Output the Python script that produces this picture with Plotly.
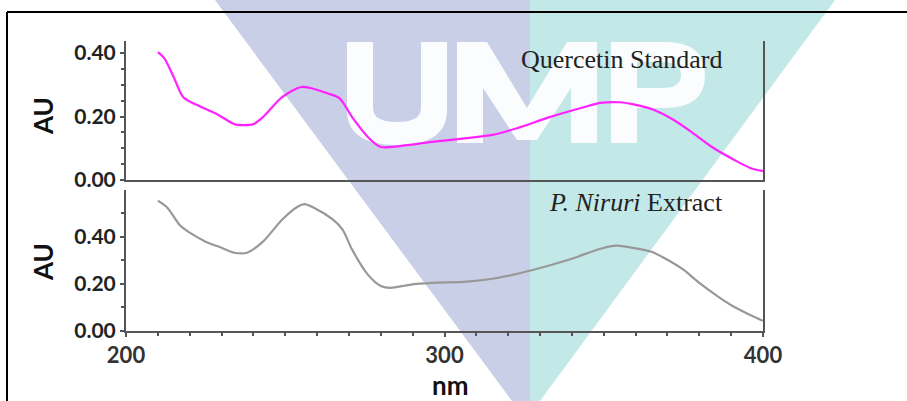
import plotly.graph_objects as go

W, H = 907, 401

# UV-Vis absorbance spectra (wavelength in nm, absorbance in AU)
quercetin_nm = [210, 212, 215, 218, 223, 229, 234, 237, 240, 243, 249, 255, 258, 263, 267,
                271, 276, 280, 286, 296, 307, 315, 323, 333, 344, 349, 355, 359, 366, 372,
                378, 384, 391, 396, 400]
quercetin_au = [0.403, 0.384, 0.324, 0.261, 0.233, 0.205, 0.176, 0.173, 0.176, 0.198, 0.261,
                0.293, 0.290, 0.274, 0.258, 0.198, 0.135, 0.104, 0.107, 0.120, 0.132, 0.142,
                0.164, 0.198, 0.230, 0.243, 0.245, 0.239, 0.220, 0.189, 0.148, 0.104, 0.063,
                0.038, 0.028]

extract_nm = [210, 213, 217, 220, 225, 230, 234, 238, 243, 249, 254, 256, 259, 265, 268, 271,
              276, 280, 283, 289, 296, 307, 317, 328, 339, 349, 354, 359, 365, 370, 375, 380,
              386, 391, 396, 400]
extract_au = [0.553, 0.523, 0.447, 0.417, 0.379, 0.353, 0.332, 0.332, 0.379, 0.472, 0.528,
              0.538, 0.523, 0.472, 0.430, 0.345, 0.238, 0.191, 0.183, 0.196, 0.204, 0.209,
              0.226, 0.260, 0.302, 0.349, 0.362, 0.353, 0.336, 0.302, 0.260, 0.204, 0.145,
              0.102, 0.068, 0.043]

y_tick_values = [0.0, 0.2, 0.4]
x_tick_values = [200, 300, 400]

top_label = "Quercetin Standard"
bottom_label = "<i>P. Niruri</i> Extract"


def pp(x, y):
    """Pixel position -> paper fraction string."""
    return f"{x / W:.5f},{1 - y / H:.5f}"


def make_path(cmds):
    """Build an SVG path in paper units; one command letter per point group."""
    out = []
    for c, pts in cmds:
        if c == "Z":
            out.append("Z")
        elif c == "Q":
            for i in range(0, len(pts), 2):
                out.append("Q " + pp(*pts[i]) + " " + pp(*pts[i + 1]))
        else:
            for i, pt in enumerate(pts):
                out.append((c if i == 0 or c != "M" else "L") + " " + pp(*pt))
    return " ".join(out)


ax_col = "#555555"
label_font = dict(family="Lato", size=21, color="#222222", weight="bold")

fig = go.Figure()
fig.add_trace(go.Scatter(x=quercetin_nm, y=quercetin_au, mode="lines",
                         line=dict(color="#ff22ff", width=2.2, shape="spline", smoothing=0.8),
                         xaxis="x", yaxis="y", showlegend=False))
fig.add_trace(go.Scatter(x=extract_nm, y=extract_au, mode="lines",
                         line=dict(color="#989898", width=2.2, shape="spline", smoothing=0.8),
                         xaxis="x2", yaxis="y2", showlegend=False))

x_dom = [126 / W, 763 / W]
common_y = dict(showline=True, linecolor=ax_col, linewidth=2, mirror=True,
                ticks="outside", ticklen=4, tickwidth=1.5, tickcolor=ax_col,
                tickvals=y_tick_values, tickformat=".2f", tickfont=label_font,
                showgrid=False, zeroline=False, automargin=False)

fig.update_layout(
    width=W, height=H,
    margin=dict(l=0, r=0, t=0, b=0, pad=0),
    paper_bgcolor="white",
    plot_bgcolor="rgba(0,0,0,0)",
    xaxis=dict(domain=x_dom, range=[200, 400], anchor="y", showline=True,
               linecolor=ax_col, linewidth=2, showticklabels=False, ticks="",
               showgrid=False, zeroline=False, automargin=False),
    yaxis=dict(domain=[1 - 180 / H, 1 - 41 / H], range=[0, 0.438], anchor="x",
               minor=dict(dtick=0.05, ticks="outside", ticklen=3, tickcolor=ax_col),
               **common_y),
    xaxis2=dict(domain=x_dom, range=[200, 400], anchor="y2", showline=True,
                linecolor=ax_col, linewidth=2, ticks="outside", ticklen=4,
                tickcolor=ax_col, tickwidth=1.5, tickvals=x_tick_values,
                tickfont=dict(family="Lato", size=22, color="#333333", weight="bold"),
                minor=dict(dtick=10, ticks="outside", ticklen=3, tickcolor=ax_col),
                showgrid=False, zeroline=False, automargin=False),
    yaxis2=dict(domain=[1 - 331 / H, 1 - 190 / H], range=[0, 0.598], anchor="x2",
                minor=dict(dtick=0.1, ticks="outside", ticklen=3, tickcolor=ax_col),
                **common_y),
)

# Watermark: two-tone triangle with the "UMP" lettering cut out in white
lavender = make_path([("M", [(215, 0)]), ("L", [(530, 0), (530, 401), (512, 401)]), ("Z", [])])
teal = make_path([("M", [(530, 0)]), ("L", [(835, 0), (540, 401), (530, 401)]), ("Z", [])])
letter_u = make_path([
    ("M", [(347, 42)]), ("L", [(373, 42), (373, 108)]), ("Q", [(373, 122), (397, 122)]),
    ("Q", [(421, 122), (421, 108)]), ("L", [(421, 42), (447, 42), (447, 110)]),
    ("Q", [(447, 145), (397, 145), (347, 145), (347, 110)]), ("Z", [])])
letter_m = make_path([
    ("M", [(457, 143)]),
    ("L", [(457, 42), (487, 42), (527, 108), (567, 42), (597, 42), (597, 143), (571, 143),
           (571, 88), (537, 140), (517, 140), (483, 88), (483, 143)]), ("Z", [])])
letter_p = make_path([
    ("M", [(611, 143)]), ("L", [(611, 42), (665, 42)]),
    ("Q", [(705, 42), (705, 75), (705, 108), (665, 108)]),
    ("L", [(637, 108), (637, 143)]), ("Z", []),
    ("M", [(637, 62)]), ("L", [(662, 62)]),
    ("Q", [(681, 62), (681, 75), (681, 88), (662, 88)]),
    ("L", [(637, 88)]), ("Z", [])])

shapes = [
    dict(type="path", path=lavender, xref="paper", yref="paper", layer="below",
         fillcolor="#c9cfe6", line=dict(width=0)),
    dict(type="path", path=teal, xref="paper", yref="paper", layer="below",
         fillcolor="#c3e8e8", line=dict(width=0)),
]
for p in (letter_u, letter_m):
    shapes.append(dict(type="path", path=p, xref="paper", yref="paper", layer="below",
                       fillcolor="#fbfcfd", line=dict(width=0)))
shapes.append(dict(type="path", path=letter_p, xref="paper", yref="paper", layer="below",
                   fillcolor="#fbfcfd", fillrule="evenodd", line=dict(width=0)))
# Outer frame (top and left edges)
shapes.append(dict(type="line", xref="paper", yref="paper", layer="below",
                   x0=7 / W, x1=1, y0=1 - 12 / H, y1=1 - 12 / H,
                   line=dict(color="black", width=2)))
shapes.append(dict(type="line", xref="paper", yref="paper", layer="below",
                   x0=7 / W, x1=7 / W, y0=1 - 12 / H, y1=0,
                   line=dict(color="black", width=2)))
fig.update_layout(shapes=shapes)

serif = dict(family="Liberation Serif", size=26, color="#222222")
title_font = dict(family="Lato", size=26, color="#111111", weight="bold")
fig.update_layout(annotations=[
    dict(text=top_label, x=724 / W, y=1 - 59 / H, xref="paper", yref="paper",
         xanchor="right", yanchor="middle", showarrow=False, font=serif),
    dict(text=bottom_label, x=725 / W, y=1 - 202 / H, xref="paper", yref="paper",
         xanchor="right", yanchor="middle", showarrow=False, font=serif),
    dict(text="AU", x=43 / W, y=1 - 116 / H, xref="paper", yref="paper", textangle=-90,
         xanchor="center", yanchor="middle", showarrow=False, font=title_font),
    dict(text="AU", x=43 / W, y=1 - 262 / H, xref="paper", yref="paper", textangle=-90,
         xanchor="center", yanchor="middle", showarrow=False, font=title_font),
    dict(text="nm", x=450 / W, y=1 - 367 / H, xref="paper", yref="paper",
         xanchor="center", yanchor="top", showarrow=False, font=title_font),
])

fig.write_html("out.html")
